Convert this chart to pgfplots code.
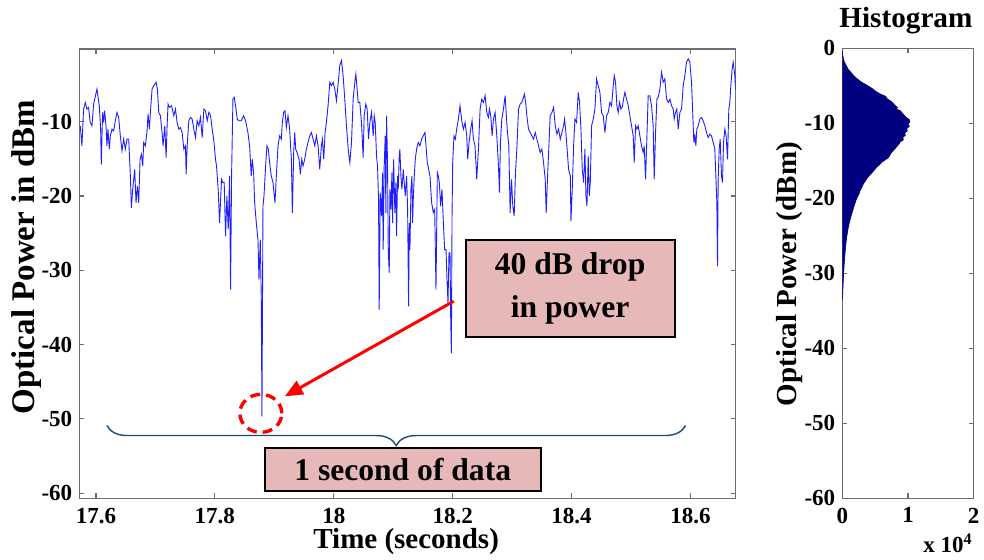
\documentclass[border=0pt]{standalone}
\usepackage{pgfplots}
\pgfplotsset{compat=1.18}
\usepackage{fontspec}
\setmainfont{Liberation Serif}
\usetikzlibrary{decorations.pathreplacing,arrows.meta}
\definecolor{trace}{RGB}{30,30,255}
\definecolor{histnavy}{RGB}{0,0,128}
\definecolor{boxpink}{RGB}{230,185,184}
\definecolor{bracecol}{RGB}{31,73,125}
\definecolor{axgray}{RGB}{110,110,110}
\begin{document}
\begin{tikzpicture}
\path[use as bounding box] (0,0) rectangle (492pt,279.5pt);
\pgfplotsset{
  myaxis/.style={
    scale only axis,
    axis line style={axgray, line width=0.6pt},
    tick style={axgray, line width=0.6pt},
    major tick length=2.5pt,
    tick align=inside,
    /pgf/number format/assume math mode=true,
    tick label style={font=\fontsize{11.5}{12}\selectfont\bfseries},
    xticklabel style={yshift=-1.2pt},
    label style={font=\fontsize{14.5}{16}\selectfont\bfseries},
    xtick pos=both, ytick pos=both,
  }
}
\begin{axis}[myaxis,
  at={(39.65pt,30.35pt)}, anchor=south west,
  width=328.2pt, height=224.65pt,
  xmin=17.572, xmax=18.676, ymin=-60.7, ymax=-0.2,
  xtick={17.6,17.8,18,18.2,18.4,18.6},
  xticklabels={17.6,17.8,18,18.2,18.4,18.6},
  ytick={-60,-50,-40,-30,-20,-10},
  xlabel={Time (seconds)},
  ylabel={Optical Power in dBm},
  xlabel style={at={(rel axis cs:0.498,-0.096)}, anchor=center},
  ylabel style={at={(rel axis cs:-0.08,0.537)}, anchor=center, font=\fontsize{16.5}{18}\selectfont\bfseries},
]
\addplot[trace, line width=0.45pt] coordinates {
(17.5736,-10.54) (17.5764,-13.24) (17.5792,-8.29) (17.5820,-7.39) (17.5848,-8.29) (17.5876,-8.06) (17.5904,-10.09) (17.5933,-10.54) (17.5961,-7.61) (17.6017,-5.59)
(17.6056,-7.84) (17.6079,-10.99) (17.6090,-15.72) (17.6112,-8.74) (17.6129,-10.09) (17.6146,-8.51) (17.6169,-10.54) (17.6185,-13.24) (17.6202,-10.99) (17.6225,-13.69)
(17.6242,-11.89) (17.6270,-10.99) (17.6298,-11.22) (17.6326,-9.86) (17.6354,-8.74) (17.6382,-9.41) (17.6410,-11.89) (17.6438,-13.92) (17.6466,-12.34) (17.6494,-13.69)
(17.6522,-12.34) (17.6551,-12.34) (17.6579,-17.30) (17.6596,-21.58) (17.6618,-19.10) (17.6652,-16.40) (17.6674,-20.90) (17.6697,-18.65) (17.6719,-20.90) (17.6742,-15.05)
(17.6764,-14.37) (17.6787,-15.95) (17.6803,-12.79) (17.6831,-13.24) (17.6860,-11.22) (17.6876,-8.96) (17.6899,-10.99) (17.6916,-8.74) (17.6944,-5.59) (17.6972,-5.14)
(17.7011,-4.68) (17.7034,-5.59) (17.7056,-8.74) (17.7084,-9.19) (17.7112,-11.44) (17.7129,-13.24) (17.7157,-10.54) (17.7180,-14.82) (17.7197,-10.54) (17.7213,-7.61)
(17.7236,-8.06) (17.7270,-7.84) (17.7292,-8.51) (17.7309,-9.19) (17.7337,-8.29) (17.7365,-10.09) (17.7393,-10.99) (17.7421,-10.77) (17.7449,-11.44) (17.7478,-13.69)
(17.7506,-13.24) (17.7517,-17.07) (17.7534,-13.24) (17.7562,-9.86) (17.7590,-9.41) (17.7618,-9.64) (17.7646,-10.99) (17.7674,-12.12) (17.7702,-9.86) (17.7730,-10.54)
(17.7758,-9.41) (17.7787,-12.12) (17.7815,-8.29) (17.7843,-8.51) (17.7871,-9.86) (17.7899,-8.74) (17.7927,-9.19) (17.7955,-10.99) (17.7983,-12.57) (17.8011,-15.05)
(17.8028,-15.95) (17.8056,-19.10) (17.8079,-23.60) (17.8112,-17.75) (17.8135,-18.20) (17.8157,-18.20) (17.8180,-25.41) (17.8202,-20.00) (17.8225,-24.50) (17.8247,-17.30)
(17.8264,-32.61) (17.8281,-17.30) (17.8304,-6.94) (17.8326,-6.71) (17.8348,-7.84) (17.8376,-9.64) (17.8404,-9.86) (17.8444,-9.86) (17.8483,-9.19) (17.8517,-9.86)
(17.8556,-11.44) (17.8584,-13.24) (17.8612,-17.30) (17.8629,-15.05) (17.8652,-16.85) (17.8669,-20.90) (17.8697,-23.60) (17.8725,-25.86) (17.8742,-31.26) (17.8764,-25.86)
(17.8781,-33.96) (17.8792,-49.70) (17.8809,-21.35) (17.8826,-20.00) (17.8854,-15.95) (17.8876,-13.24) (17.8899,-13.69) (17.8921,-15.50) (17.8949,-17.30) (17.8978,-18.20)
(17.8994,-19.55) (17.9011,-20.90) (17.9034,-17.30) (17.9062,-13.24) (17.9090,-11.89) (17.9118,-12.34) (17.9135,-10.09) (17.9157,-8.74) (17.9180,-8.51) (17.9202,-10.77)
(17.9230,-9.19) (17.9258,-10.99) (17.9287,-15.05) (17.9303,-22.25) (17.9326,-14.14) (17.9343,-11.44) (17.9360,-13.69) (17.9382,-14.14) (17.9416,-15.05) (17.9438,-17.07)
(17.9461,-15.05) (17.9483,-15.95) (17.9511,-15.05) (17.9539,-13.69) (17.9567,-12.79) (17.9596,-11.89) (17.9624,-11.44) (17.9652,-12.34) (17.9680,-13.24) (17.9708,-11.89)
(17.9736,-13.24) (17.9764,-16.40) (17.9792,-13.24) (17.9809,-12.34) (17.9831,-15.05) (17.9854,-11.44) (17.9876,-10.09) (17.9904,-7.84) (17.9933,-4.68) (17.9961,-5.14)
(17.9989,-4.68) (18.0017,-5.59) (18.0045,-7.16) (18.0073,-4.91) (18.0101,-2.43) (18.0129,-1.76) (18.0157,-3.78) (18.0185,-6.94) (18.0213,-10.54) (18.0242,-13.69)
(18.0270,-15.50) (18.0298,-12.79) (18.0326,-6.94) (18.0354,-4.68) (18.0371,-3.56) (18.0393,-5.59) (18.0410,-7.39) (18.0438,-7.39) (18.0466,-10.09) (18.0494,-14.82)
(18.0511,-9.19) (18.0539,-7.61) (18.0562,-8.29) (18.0584,-12.34) (18.0607,-10.09) (18.0635,-8.74) (18.0663,-11.89) (18.0680,-9.19) (18.0697,-10.09) (18.0719,-14.59)
(18.0736,-15.95) (18.0753,-20.45) (18.0764,-35.32) (18.0781,-19.55) (18.0803,-22.70) (18.0820,-16.85) (18.0831,-27.21) (18.0848,-15.95) (18.0865,-11.89) (18.0876,-22.25)
(18.0888,-9.19) (18.0904,-15.50) (18.0916,-27.21) (18.0933,-30.36) (18.0944,-19.10) (18.0961,-21.80) (18.0978,-16.85) (18.0989,-23.60) (18.1006,-15.05) (18.1028,-22.25)
(18.1045,-18.20) (18.1056,-25.41) (18.1073,-17.30) (18.1084,-19.10) (18.1101,-14.59) (18.1112,-13.69) (18.1129,-17.30) (18.1146,-19.10) (18.1169,-16.40) (18.1185,-18.20)
(18.1202,-20.00) (18.1225,-17.30) (18.1242,-21.80) (18.1258,-34.86) (18.1270,-23.60) (18.1281,-27.21) (18.1298,-19.10) (18.1315,-17.30) (18.1326,-23.60) (18.1337,-20.45)
(18.1354,-17.30) (18.1371,-15.05) (18.1393,-13.69) (18.1421,-12.79) (18.1449,-13.24) (18.1478,-12.34) (18.1506,-11.89) (18.1534,-11.44) (18.1551,-13.24) (18.1573,-15.50)
(18.1596,-16.40) (18.1618,-17.30) (18.1646,-20.90) (18.1674,-22.25) (18.1697,-21.80) (18.1719,-32.61) (18.1742,-16.85) (18.1758,-17.30) (18.1775,-18.20) (18.1798,-21.35)
(18.1820,-19.10) (18.1843,-23.60) (18.1865,-27.21) (18.1888,-27.21) (18.1904,-31.26) (18.1921,-34.41) (18.1938,-27.66) (18.1955,-27.66) (18.1966,-36.22) (18.1978,-41.17)
(18.1989,-22.70) (18.2000,-15.50) (18.2022,-11.89) (18.2045,-12.34) (18.2067,-10.99) (18.2096,-9.64) (18.2124,-7.84) (18.2152,-9.86) (18.2180,-10.99) (18.2208,-10.09)
(18.2236,-11.89) (18.2253,-15.05) (18.2275,-12.79) (18.2303,-10.99) (18.2326,-9.86) (18.2348,-12.34) (18.2376,-13.24) (18.2404,-17.75) (18.2433,-13.69) (18.2461,-8.29)
(18.2489,-6.94) (18.2517,-7.39) (18.2545,-6.49) (18.2573,-8.74) (18.2601,-9.41) (18.2618,-8.29) (18.2640,-9.19) (18.2663,-11.89) (18.2685,-9.64) (18.2713,-8.74)
(18.2742,-11.89) (18.2770,-15.95) (18.2787,-19.55) (18.2803,-12.79) (18.2826,-9.64) (18.2854,-8.29) (18.2882,-6.49) (18.2899,-8.74) (18.2921,-11.44) (18.2944,-13.24)
(18.2966,-22.25) (18.2989,-17.75) (18.3011,-21.35) (18.3034,-22.70) (18.3056,-16.85) (18.3079,-13.69) (18.3107,-8.29) (18.3135,-7.61) (18.3163,-7.39) (18.3191,-6.71)
(18.3208,-6.26) (18.3230,-7.61) (18.3247,-9.19) (18.3275,-10.99) (18.3303,-11.44) (18.3331,-11.89) (18.3360,-12.34) (18.3388,-11.44) (18.3416,-12.34) (18.3444,-13.24)
(18.3472,-14.14) (18.3500,-13.69) (18.3528,-15.50) (18.3556,-17.75) (18.3573,-22.25) (18.3596,-17.30) (18.3618,-13.24) (18.3640,-9.19) (18.3669,-8.74) (18.3697,-8.06)
(18.3725,-10.54) (18.3753,-11.67) (18.3781,-10.99) (18.3809,-12.34) (18.3837,-11.44) (18.3865,-10.54) (18.3882,-9.64) (18.3904,-11.44) (18.3921,-13.24) (18.3949,-16.40)
(18.3978,-17.30) (18.3989,-23.38) (18.4011,-19.10) (18.4034,-13.24) (18.4056,-9.64) (18.4084,-10.09) (18.4112,-6.04) (18.4134,-7.39) (18.4157,-10.99) (18.4179,-16.40)
(18.4202,-18.20) (18.4224,-13.69) (18.4241,-20.00) (18.4258,-21.35) (18.4280,-14.59) (18.4297,-20.00) (18.4314,-18.20) (18.4336,-10.54) (18.4364,-9.64) (18.4392,-8.29)
(18.4420,-4.23) (18.4448,-5.14) (18.4476,-6.04) (18.4504,-8.74) (18.4532,-9.19) (18.4560,-11.44) (18.4588,-9.19) (18.4616,-8.74) (18.4644,-7.39) (18.4672,-7.84)
(18.4700,-5.14) (18.4717,-3.78) (18.4739,-4.68) (18.4762,-7.84) (18.4784,-8.74) (18.4807,-7.39) (18.4829,-8.29) (18.4851,-8.06) (18.4874,-6.94) (18.4896,-6.04)
(18.4924,-6.94) (18.4952,-7.84) (18.4980,-9.19) (18.5008,-10.54) (18.5036,-11.89) (18.5053,-15.50) (18.5076,-10.54) (18.5098,-10.99) (18.5120,-10.54) (18.5148,-11.89)
(18.5176,-13.24) (18.5204,-14.14) (18.5221,-13.24) (18.5244,-17.75) (18.5260,-13.69) (18.5288,-6.49) (18.5316,-6.49) (18.5344,-7.84) (18.5372,-10.54) (18.5389,-17.75)
(18.5412,-11.44) (18.5434,-6.94) (18.5457,-6.71) (18.5485,-5.59) (18.5513,-3.33) (18.5541,-4.68) (18.5569,-4.23) (18.5597,-6.94) (18.5625,-7.39) (18.5653,-6.94)
(18.5681,-7.84) (18.5709,-8.29) (18.5726,-9.64) (18.5748,-8.74) (18.5770,-8.29) (18.5793,-10.99) (18.5821,-8.74) (18.5849,-8.29) (18.5877,-5.14) (18.5905,-3.78)
(18.5933,-1.98) (18.5961,-1.53) (18.5989,-1.98) (18.6017,-4.68) (18.6039,-9.19) (18.6056,-12.79) (18.6073,-11.89) (18.6090,-13.24) (18.6106,-10.99) (18.6129,-10.54)
(18.6157,-9.64) (18.6185,-9.41) (18.6213,-9.86) (18.6241,-10.54) (18.6269,-11.44) (18.6297,-12.12) (18.6325,-11.67) (18.6353,-11.89) (18.6381,-12.79) (18.6409,-13.69)
(18.6426,-17.30) (18.6443,-20.90) (18.6454,-29.46) (18.6465,-17.75) (18.6482,-13.69) (18.6499,-12.34) (18.6521,-17.30) (18.6538,-18.20) (18.6555,-12.79) (18.6577,-10.99)
(18.6599,-11.89) (18.6622,-15.05) (18.6644,-8.29) (18.6661,-7.39) (18.6678,-5.14) (18.6700,-2.88) (18.6717,-1.98) (18.6745,-3.78) (18.6757,-5.59)
};
% annotations
\draw[decorate, decoration={brace, amplitude=10pt, mirror}, bracecol, line width=0.7pt]
  (axis cs:17.6185,-50.9) -- (axis cs:18.5916,-50.9);
\draw[red, line width=1.5pt, -{Triangle[length=9pt,width=7.5pt]}]
  (axis cs:18.2017,-34.16) -- (axis cs:17.9176,-46.97);
\draw[red, line width=1.7pt, dash pattern=on 5pt off 3pt]
  (axis cs:17.8773,-49.26) ellipse [x radius=10.5pt, y radius=9.5pt];
\node[draw=black, line width=1pt, fill=boxpink, minimum width=104.5pt, minimum height=48.5pt,
  align=center, inner sep=0pt, font=\fontsize{15.8}{21.5}\selectfont\bfseries]
  at (axis cs:18.3975,-32.48) {40 dB drop\\in power};
\node[draw=black, line width=1pt, fill=boxpink, minimum width=138pt, minimum height=21.5pt,
  inner sep=0pt, font=\fontsize{15.8}{18}\selectfont\bfseries]
  at (axis cs:18.116,-56.87) {1 second of data};
\end{axis}
\begin{axis}[myaxis,
  at={(421.15pt,30.35pt)}, anchor=south west,
  width=65.7pt, height=225pt,
  clip=false,
  xmin=0, xmax=2, ymin=-60, ymax=0,
  xtick={0,1,2}, ytick={-60,-50,-40,-30,-20,-10,0},
  ylabel={Optical Power (dBm)},
  ylabel style={at={(rel axis cs:-0.398,0.498)}, anchor=center},
]
\addplot[fill=histnavy, draw=histnavy, line width=0.3pt] coordinates {
(0,-0.3) (0.005,-0.8) (0.015,-1.3) (0.03,-1.8) (0.06,-2.3) (0.09,-2.8) (0.14,-3.3) (0.18,-3.7) (0.23,-4.1) (0.29,-4.5)
(0.35,-4.8) (0.41,-5.1) (0.46,-5.4) (0.52,-5.8) (0.58,-6.1) (0.66,-6.4) (0.68,-6.7) (0.73,-7.0) (0.77,-7.3) (0.80,-7.6)
(0.84,-7.9) (0.82,-8.1) (0.88,-8.3) (0.91,-8.6) (0.94,-8.9) (0.97,-9.2) (1.02,-9.5) (1.03,-9.8) (1.00,-10.1) (1.02,-10.4)
(0.98,-10.7) (0.99,-11.0) (0.95,-11.3) (0.96,-11.6) (0.92,-11.9) (0.93,-12.2) (0.88,-12.5) (0.86,-12.8) (0.83,-13.1) (0.80,-13.4)
(0.77,-13.7) (0.74,-14.0) (0.72,-14.3) (0.70,-14.6) (0.65,-14.9) (0.60,-15.2) (0.57,-15.5) (0.53,-15.8) (0.50,-16.1) (0.47,-16.4)
(0.44,-16.7) (0.41,-17.0) (0.38,-17.3) (0.35,-17.7) (0.32,-18.1) (0.30,-18.5) (0.27,-19.0) (0.25,-19.5) (0.22,-20.0) (0.20,-20.5)
(0.18,-21.0) (0.16,-21.6) (0.14,-22.2) (0.12,-22.8) (0.10,-23.5) (0.085,-24.2) (0.07,-25.0) (0.055,-26.0) (0.045,-27.0) (0.035,-28.0)
(0.027,-29.0) (0.02,-30.0) (0.015,-31.0) (0.01,-32.0) (0.005,-33.0) (0,-33.5)
};
\node[font=\fontsize{14.6}{16}\selectfont\bfseries] at (rel axis cs:0.484,1.062) {Histogram};
\node[font=\fontsize{11.5}{12}\selectfont\bfseries] at (rel axis cs:0.804,-0.1) {x 10\textsuperscript{4}};
\end{axis}
\end{tikzpicture}
\end{document}
